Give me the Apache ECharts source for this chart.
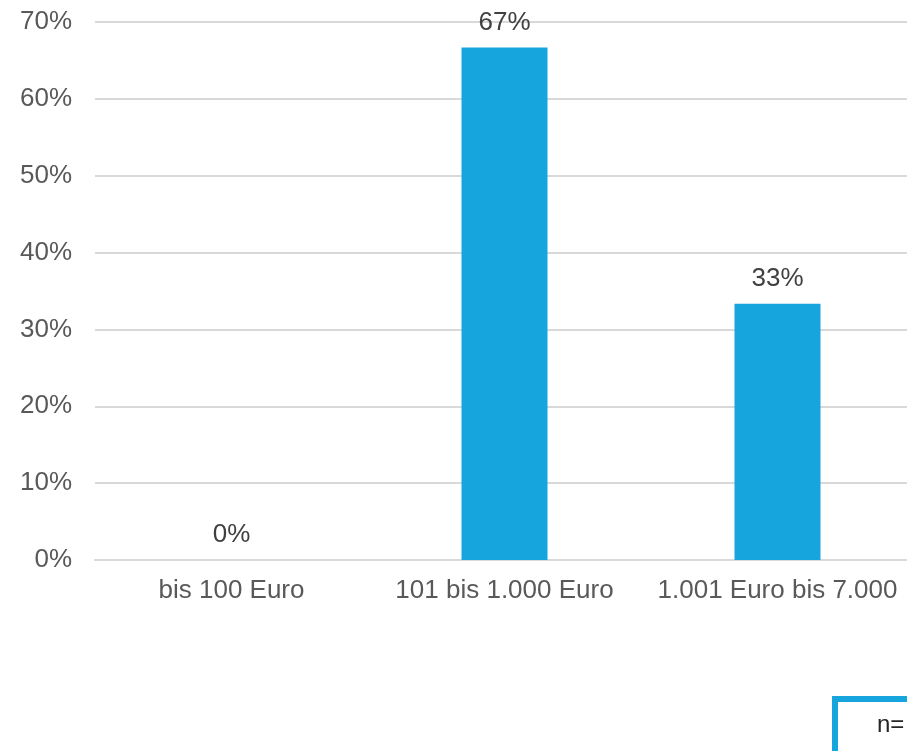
<!DOCTYPE html>
<html><head><meta charset="utf-8">
<script src="https://cdn.jsdelivr.net/npm/echarts@6/dist/echarts.min.js"></script>
<style>html,body{margin:0;padding:0;overflow:hidden;background:#fff}#c{width:921px;height:751px}</style>
</head><body><div id="c"></div>
<script>
const categories = ['bis 100 Euro', '101 bis 1.000 Euro', '1.001 Euro bis 7.000'];
const values = [0, 66.67, 33.33];
const valueLabels = ['0%', '67%', '33%'];
const yTicks = [0, 10, 20, 30, 40, 50, 60, 70];
const noteText = 'n=';

const chart = echarts.init(document.getElementById('c'), null, {renderer: 'canvas'});
const font = 'Liberation Sans, Arial, sans-serif';
chart.setOption({
  animation: false,
  grid: {left: 95, right: 7, top: 22, bottom: 191, containLabel: false},
  xAxis: {
    type: 'category', data: categories,
    axisLine: {show: true, lineStyle: {color: '#d9d9d9', width: 2}},
    axisTick: {show: false},
    axisLabel: {color: '#595959', fontSize: 26, fontFamily: font, margin: 18, interval: 0}
  },
  yAxis: {
    type: 'value', min: yTicks[0], max: yTicks[yTicks.length - 1], interval: 10,
    axisLine: {show: false}, axisTick: {show: false},
    splitLine: {lineStyle: {color: '#d9d9d9', width: 2}},
    axisLabel: {color: '#595959', fontSize: 26, fontFamily: font, margin: 23, padding: [4, 0, 0, 0], formatter: v => v + '%'}
  },
  series: [{
    type: 'bar', data: values, barWidth: '31.5%',
    itemStyle: {color: '#17a5dd'},
    label: {show: true, position: 'top', distance: 12, color: '#404040', fontSize: 26, fontFamily: font,
      formatter: p => valueLabels[p.dataIndex]}
  }],
  graphic: [{
    type: 'group', left: 832, top: 696,
    children: [
      {type: 'rect', shape: {x: 3, y: 3, width: 120, height: 70}, style: {fill: '#fff', stroke: '#17a5dd', lineWidth: 6}},
      {type: 'text', x: 45, y: 17, style: {text: noteText, fill: '#262626', fontSize: 24, fontFamily: font}}
    ]
  }]
});
</script></body></html>
